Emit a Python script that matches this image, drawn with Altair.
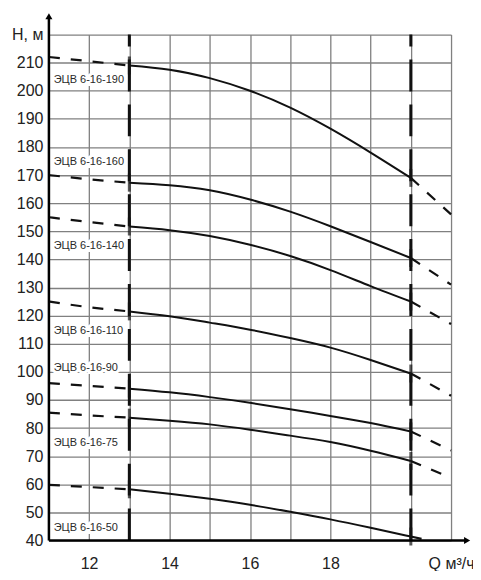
import pandas as pd
import altair as alt

# Flow rate Q (m3/h) where the curves were read
q_points = [11, 12, 13, 14, 15, 16, 17, 18, 19, 20, 21]
q_points_50 = [11, 12, 13, 14, 15, 16, 17, 18, 19, 20, 20.45]

# Head H (m) for each pump model
h_190 = [212, 210.5, 209, 207.5, 204.5, 200, 194, 186.5, 178, 169, 156]
h_160 = [170, 168.5, 167.3, 166.4, 164.6, 161.3, 157, 151.8, 146.2, 140.5, 131]
h_140 = [155, 153.3, 151.7, 150.4, 148.3, 145.2, 141.2, 136.2, 130.5, 125, 117]
h_110 = [125, 123, 121.5, 119.8, 117.5, 115, 112, 108.6, 104.2, 99.4, 91.5]
h_90 = [96, 95, 94, 92.7, 91, 89, 86.7, 84.3, 81.8, 78.8, 72]
h_75 = [85.5, 84.5, 83.7, 82.6, 81.3, 79.4, 77.3, 75.0, 71.9, 68.3, 62.3]
h_50 = [59.8, 59, 58.2, 56.6, 54.8, 52.7, 50.2, 47.5, 44.5, 41.4, 40]

models = ["ЭЦВ 6-16-190", "ЭЦВ 6-16-160", "ЭЦВ 6-16-140", "ЭЦВ 6-16-110",
          "ЭЦВ 6-16-90", "ЭЦВ 6-16-75", "ЭЦВ 6-16-50"]
heads = [h_190, h_160, h_140, h_110, h_90, h_75, h_50]
label_h = [204, 174.5, 144.8, 114.7, 101.5, 74.5, 44.4]

# axis ticks
x_ticks = [11, 12, 13, 14, 15, 16, 17, 18, 19, 20, 21]
y_ticks = [40, 50, 60, 70, 80, 90, 100, 110, 120, 130, 140, 150,
           160, 170, 180, 190, 200, 210, 220]

# working range boundaries
work_q = [13, 20]

# build long table, splitting each curve into left / working / right parts
rows = []
for name, hs in zip(models, heads):
    qs = q_points_50 if name.endswith("-50") else q_points
    for q, h in zip(qs, hs):
        if q <= 13:
            rows.append({"model": name, "q": q, "h": h, "part": "left"})
        if 13 <= q <= 20:
            rows.append({"model": name, "q": q, "h": h, "part": "mid"})
        if q >= 20:
            rows.append({"model": name, "q": q, "h": h, "part": "right"})
curves = pd.DataFrame(rows)
curves["seg"] = curves["model"] + "|" + curves["part"]

cross = curves[(curves["part"] == "mid") & (curves["q"].isin(work_q))]

labels = pd.DataFrame({"model": models, "q": [11.12] * len(models), "h": label_h})

x_scale = alt.Scale(domain=[11, 21], nice=False, zero=False)
y_scale = alt.Scale(domain=[40, 220], nice=False, zero=False)

x_axis = alt.Axis(
    values=x_ticks, tickCount=11, grid=True, ticks=False, title=None, domain=False,
    labelExpr="datum.value == 21 ? 'Q м³/ч' : (datum.value % 2 == 0 && datum.value < 20 ? datum.label : '')",
    labelFlush=False, labelOverlap=False, labelPadding=15, labelFontSize=16,
)
y_axis = alt.Axis(
    values=y_ticks, tickCount=19, grid=True, ticks=False, title=None, domain=False,
    labelExpr="datum.value == 220 ? 'H, м' : datum.label",
    labelFlush=False, labelOverlap=False, labelPadding=6, labelFontSize=16,
)


def xq(field):
    return alt.X(field, scale=x_scale, axis=x_axis)


def yq(field):
    return alt.Y(field, scale=y_scale, axis=y_axis)


base = alt.Chart(curves)

solid = base.mark_line(color="#111", strokeWidth=2, interpolate="natural").encode(
    x=xq("q:Q"), y=yq("h:Q"), detail="seg:N",
).transform_filter(alt.datum.part == "mid")

dashed = base.mark_line(color="#111", strokeWidth=2.2, strokeDash=[11, 11],
                        interpolate="natural").encode(
    x=xq("q:Q"), y=yq("h:Q"), detail="seg:N",
).transform_filter(alt.datum.part != "mid")

vlines = alt.Chart(pd.DataFrame({"q": work_q, "lo": [40, 40], "hi": [220, 220]})).mark_rule(
    color="#111", strokeWidth=3, strokeDash=[32, 13]
).encode(x=xq("q:Q"), y=yq("lo:Q"), y2="hi:Q")

ticks = alt.Chart(cross).mark_tick(color="#111", thickness=3, size=18, orient="vertical").encode(
    x=xq("q:Q"), y=yq("h:Q")
)

# axis lines with arrows, drawn on top of everything
y_arrow_line = alt.Chart(pd.DataFrame({"q": [11], "a": [40], "b": [226]})).mark_rule(
    color="black", strokeWidth=2.5).encode(x=xq("q:Q"), y=yq("a:Q"), y2="b:Q")
y_arrow_head = alt.Chart(pd.DataFrame({"q": [11], "h": [226.5]})).mark_point(
    shape="triangle-up", filled=True, color="black", size=50, opacity=1).encode(x=xq("q:Q"), y=yq("h:Q"))
x_arrow_line = alt.Chart(pd.DataFrame({"a": [11], "b": [21.35], "h": [40]})).mark_rule(
    color="black", strokeWidth=2.5).encode(x=xq("a:Q"), x2="b:Q", y=yq("h:Q"))
x_arrow_head = alt.Chart(pd.DataFrame({"q": [21.4], "h": [40]})).mark_point(
    shape="triangle-right", filled=True, color="black", size=50, opacity=1).encode(x=xq("q:Q"), y=yq("h:Q"))

halo = alt.Chart(labels).mark_text(
    align="left", baseline="middle", fontSize=11, font="Liberation Sans",
    color="white", stroke="white", strokeWidth=6
).encode(x=xq("q:Q"), y=yq("h:Q"), text="model:N")

label_text = alt.Chart(labels).mark_text(
    align="left", baseline="middle", fontSize=11, font="Liberation Sans", color="#2a2a2a"
).encode(x=xq("q:Q"), y=yq("h:Q"), text="model:N")

chart = alt.layer(
    solid, dashed, vlines, ticks, halo, label_text,
    y_arrow_line, y_arrow_head, x_arrow_line, x_arrow_head
).properties(
    width=403, height=507,
    autosize=alt.AutoSizeParams(type="none"),
    padding={"left": 41, "top": 26, "right": 22, "bottom": 30},
).configure_view(
    stroke=None
).configure_axis(
    gridColor="#808080", gridWidth=1.3, gridOpacity=1,
    labelColor="#222", labelFont="Liberation Sans",
)

chart.save("out.html", embed_options={"renderer": "svg", "actions": False})
